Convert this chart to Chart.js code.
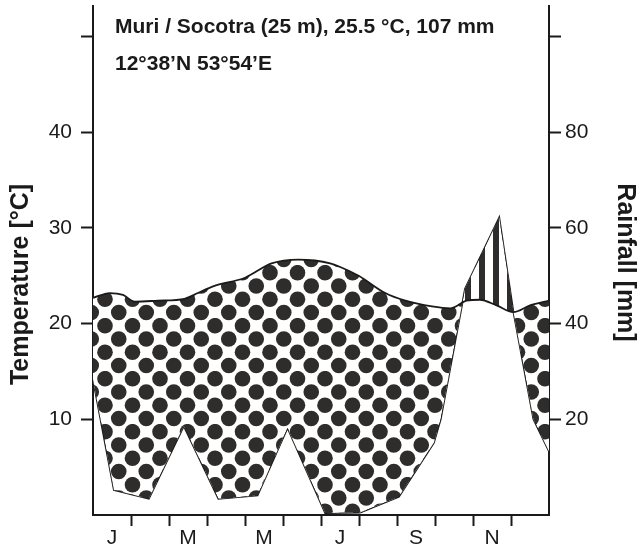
<!DOCTYPE html>
<html lang="en">
<head>
<meta charset="UTF-8">
<title>Muri / Socotra climate diagram</title>
<script src="https://cdn.jsdelivr.net/npm/chart.js@4.4.0/dist/chart.umd.min.js"></script>
<style>
html,body{margin:0;padding:0;background:#fff}
canvas{display:block}
</style>
</head>
<body>
<canvas id="climate" width="639" height="551"></canvas>
<script>
/* ---------- data ---------- */
// x is in months from 1 Jan (0) to 31 Dec (12)
const tempMonth = [0, 0.44, 0.79, 1.10, 1.71, 2.41, 2.76, 3.16, 4.0, 4.70, 5.40, 5.84, 6.24, 6.46, 6.99, 7.69, 8.22, 8.92, 9.4, 9.83, 10.18, 10.62, 11.06, 11.5, 12];
const tempC     = [22.7, 23.2, 23.0, 22.3, 22.4, 22.6, 23.2, 23.9, 24.8, 26.3, 26.7, 26.6, 26.3, 26.0, 25.0, 23.2, 22.4, 21.8, 21.6, 22.4, 22.5, 21.9, 21.2, 21.9, 22.4];
const rainMonth = [0, 0.55, 1.47, 2.39, 3.30, 4.33, 5.12, 6.11, 7.03, 8.05, 8.97, 9.15, 9.79, 10.69, 11.06, 11.59, 12];
const rainMm    = [28.3, 5.2, 3.4, 18.6, 3.4, 4.1, 18.2, 0.4, 0.5, 3.8, 15.1, 20.0, 47.3, 62.2, 42.6, 20.0, 13.3];
const monthLabels = ['J','F','M','A','M','J','J','A','S','O','N','D'];
const tempTicks = [10, 20, 30, 40, 50];
const rainTicks = [20, 40, 60, 80, 100];
const titleLines = ['Muri / Socotra (25 m), 25.5 °C, 107 mm', '12°38’N 53°54’E'];

/* ---------- helpers ---------- */
const FONT = '"Liberation Sans", Arial, Helvetica, sans-serif';
const INK = '#1a1a1a', DOT = '#2e2d2b';

function dotPattern(){
  const c = document.createElement('canvas'); c.width = 55; c.height = 53;
  const g = c.getContext('2d');
  g.fillStyle = '#fff'; g.fillRect(0, 0, 55, 53);
  g.fillStyle = DOT;
  for (let r = 0; r < 4; r++){
    const y = 7.7 + r*13.25, x0 = r%2 ? 8.75 : 22.5;
    for (let k = -1; k <= 2; k++) for (const dy of [-53, 0, 53]){
      g.beginPath(); g.arc(x0 + k*27.5, y + dy, 7.8, 0, Math.PI*2); g.fill();
    }
  }
  return g.createPattern(c, 'repeat');
}
function stripePattern(){
  const c = document.createElement('canvas'); c.width = 14; c.height = 14;
  const g = c.getContext('2d');
  g.fillStyle = '#fff'; g.fillRect(0, 0, 14, 14);
  g.fillStyle = DOT; g.fillRect(3, 0, 6, 14);
  return g.createPattern(c, 'repeat');
}

/* titles drawn at fixed spots like in the original figure */
const labelsPlugin = {
  id: 'labels',
  afterDraw(chart){
    const ctx = chart.ctx;
    ctx.save();
    ctx.fillStyle = INK;
    ctx.textBaseline = 'alphabetic';
    ctx.textAlign = 'left';
    ctx.font = 'bold 21px ' + FONT;
    ctx.fillText(titleLines[0], 115, 33);
    ctx.fillText(titleLines[1], 115, 70);

    ctx.font = 'bold 25px ' + FONT;
    ctx.textAlign = 'center';
    ctx.save(); ctx.translate(28, 284.5); ctx.rotate(-Math.PI/2);
    ctx.fillText('Temperature [°C]', 0, 0); ctx.restore();
    ctx.save(); ctx.translate(618, 262.5); ctx.rotate(Math.PI/2);
    ctx.fillText('Rainfall [mm]', 0, 0); ctx.restore();
    ctx.restore();
  }
};

// no extra room for half-labels at the axis ends
const noPad = ax => { ax.paddingTop = 0; ax.paddingBottom = 0; ax.paddingLeft = 0; ax.paddingRight = 0; };
const tickGrid = {drawOnChartArea:false, drawTicks:true, tickLength:12, tickWidth:2, tickColor:INK};

new Chart(document.getElementById('climate'), {
  type: 'line',
  data: {
    datasets: [
      { label: 'Temperature',
        data: tempMonth.map((m, i) => ({x: m, y: tempC[i]})),
        yAxisID: 'yT', borderColor: INK, borderWidth: 1.8,
        pointRadius: 0, cubicInterpolationMode: 'monotone',
        fill: {target: 1, above: dotPattern(), below: stripePattern()} },
      { label: 'Rainfall',
        data: rainMonth.map((m, i) => ({x: m, y: rainMm[i]})),
        yAxisID: 'yR', borderColor: INK, borderWidth: 1.8,
        pointRadius: 0, tension: 0, fill: false }
    ]
  },
  options: {
    responsive: false, animation: false,
    layout: {padding: {top: 6, left: 0, right: 0, bottom: 0}},
    plugins: {legend: {display: false}, tooltip: {enabled: false}},
    scales: {
      x: {
        type: 'linear', position: 'bottom', min: 0, max: 12,
        afterBuildTicks: ax => { ax.ticks = []; for (let k = 1; k < 24; k++) ax.ticks.push({value: k/2}); },
        afterFit: ax => { ax.height = 36; noPad(ax); },
        grid: {...tickGrid, tickLength: 11,
          tickColor: c => (c.tick && Number.isInteger(c.tick.value)) ? INK : 'rgba(0,0,0,0)'},
        border: {display: true, color: INK, width: 2},
        ticks: {autoSkip: false, maxRotation: 0, padding: 0, color: INK,
          font: {family: FONT, size: 21},
          callback: v => (v % 1 === 0.5 && Math.floor(v) % 2 === 0) ? monthLabels[Math.floor(v)] : ''}
      },
      yT: {
        type: 'linear', position: 'left', min: 0, max: 53.2,
        afterBuildTicks: ax => { ax.ticks = tempTicks.map(v => ({value: v})); },
        afterFit: ax => { ax.width = 93; noPad(ax); },
        grid: tickGrid,
        border: {display: true, color: INK, width: 2},
        ticks: {padding: 9, color: INK, font: {family: FONT, size: 21},
          callback: v => v <= 40 ? v : ''}
      },
      yR: {
        type: 'linear', position: 'right', min: 0, max: 106.4,
        afterBuildTicks: ax => { ax.ticks = rainTicks.map(v => ({value: v})); },
        afterFit: ax => { ax.width = 90; noPad(ax); },
        grid: tickGrid,
        border: {display: true, color: INK, width: 2},
        ticks: {padding: 4, color: INK, font: {family: FONT, size: 21},
          callback: v => v <= 80 ? v : ''}
      }
    }
  },
  plugins: [labelsPlugin]
});
</script>
</body>
</html>
